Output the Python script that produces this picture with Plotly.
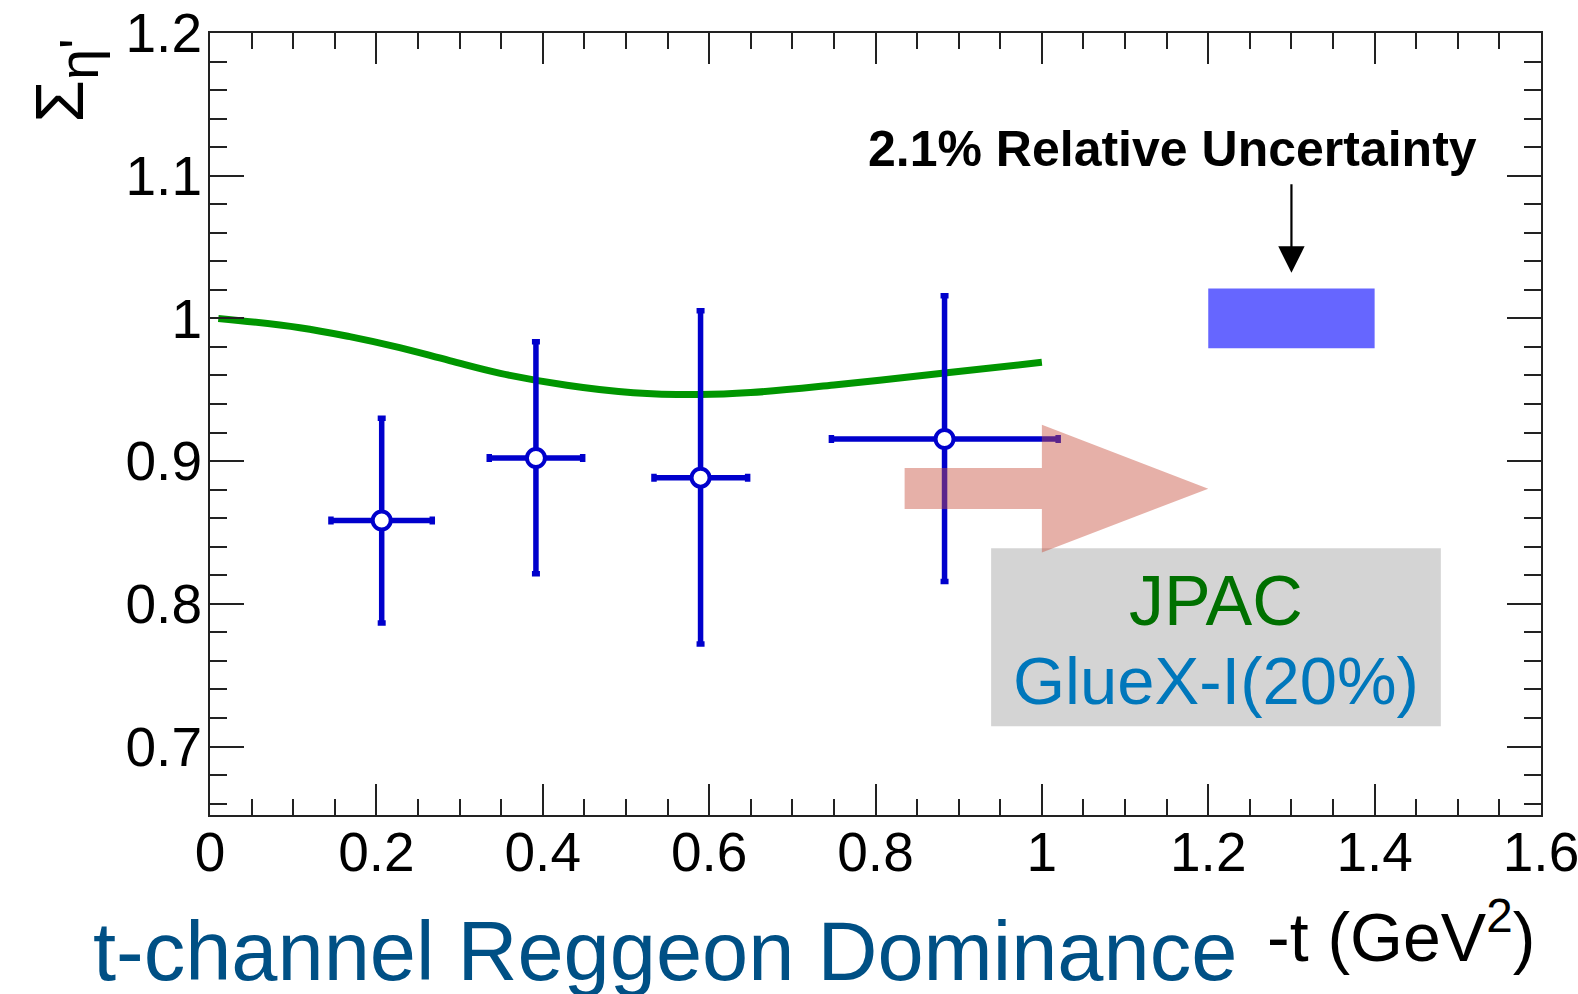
import plotly.graph_objects as go

# ---- data ----
t_pts = [0.2064, 0.3918, 0.5897, 0.8830]
sigma_pts = [0.8584, 0.9022, 0.8884, 0.9155]
t_lo = [0.1454, 0.3357, 0.5337, 0.7470]
t_hi = [0.2672, 0.4480, 0.6463, 1.0196]
sig_lo = [0.7865, 0.8210, 0.7718, 0.8157]
sig_hi = [0.9300, 0.9837, 1.0054, 1.0159]

jpac_t = [0.010, 0.108, 0.168, 0.228, 0.288, 0.349, 0.429, 0.509, 0.589, 0.650, 0.750, 0.883, 1.000]
jpac_sigma = [1.000, 0.9935, 0.9872, 0.9795, 0.9704, 0.9615, 0.9532, 0.9479, 0.9466, 0.9480, 0.9533, 0.9617, 0.9692]

unc_t = [1.2, 1.4]
unc_sigma = [0.979, 1.021]

x_ticks = [0, 0.2, 0.4, 0.6, 0.8, 1.0, 1.2, 1.4, 1.6]
x_ticktext = ["0", "0.2", "0.4", "0.6", "0.8", "1", "1.2", "1.4", "1.6"]
y_ticks = [0.7, 0.8, 0.9, 1.0, 1.1, 1.2]
y_ticktext = ["0.7", "0.8", "0.9", "1", "1.1", "1.2"]

# decorative arrow (shaft x0,x1,y0,y1 ; head base x, y0,y1 ; tip x,y)
arrow_shaft = [0.835, 1.0, 0.8664, 0.8952]
arrow_head = [1.0, 0.836, 0.9255]
arrow_tip = [1.2, 0.8807]
legend_box = [0.939, 1.4796, 0.7142, 0.839]

FONT = "Liberation Sans, Arial, Helvetica, sans-serif"
BLUE = "rgb(0,0,204)"

fig = go.Figure()

fig.add_trace(go.Scatter(
    x=jpac_t, y=jpac_sigma, mode="lines",
    line=dict(color="rgb(0,150,0)", width=7, shape="spline", smoothing=1.1),
    showlegend=False, hoverinfo="skip"))

fig.add_trace(go.Scatter(
    x=t_pts, y=sigma_pts, mode="markers",
    marker=dict(symbol="circle", size=18, color="white",
                line=dict(color=BLUE, width=4)),
    error_x=dict(type="data", symmetric=False,
                 array=[h - c for h, c in zip(t_hi, t_pts)],
                 arrayminus=[c - l for l, c in zip(t_lo, t_pts)],
                 color=BLUE, thickness=5.5, width=4),
    error_y=dict(type="data", symmetric=False,
                 array=[h - c for h, c in zip(sig_hi, sigma_pts)],
                 arrayminus=[c - l for l, c in zip(sig_lo, sigma_pts)],
                 color=BLUE, thickness=5.5, width=4),
    showlegend=False))

shapes = [
    dict(type="rect", xref="x", yref="y", x0=unc_t[0], x1=unc_t[1],
         y0=unc_sigma[0], y1=unc_sigma[1], fillcolor="#6666ff",
         line=dict(width=0), layer="above"),
    dict(type="rect", xref="x", yref="y", x0=legend_box[0], x1=legend_box[1],
         y0=legend_box[2], y1=legend_box[3], fillcolor="rgb(212,212,212)",
         line=dict(width=0), layer="above"),
]
path = (f"M {arrow_shaft[0]},{arrow_shaft[2]} L {arrow_shaft[1]},{arrow_shaft[2]} "
        f"L {arrow_head[0]},{arrow_head[1]} L {arrow_tip[0]},{arrow_tip[1]} "
        f"L {arrow_head[0]},{arrow_head[2]} L {arrow_shaft[1]},{arrow_shaft[3]} "
        f"L {arrow_shaft[0]},{arrow_shaft[3]} Z")
shapes.append(dict(type="path", xref="x", yref="y", path=path,
                   fillcolor="rgba(200,80,62,0.45)", line=dict(width=0),
                   layer="above"))

annotations = [
    dict(x=1.3, y=1.032, ax=1.3, ay=1.095, xref="x", yref="y", axref="x", ayref="y",
         text="", showarrow=True, arrowhead=2, arrowsize=2.4, arrowwidth=2.2,
         arrowcolor="black"),
    dict(x=1.157, y=1.119, xref="x", yref="y", text="<b>2.1% Relative Uncertainty</b>",
         showarrow=False, font=dict(family=FONT, size=50, color="black")),
    dict(x=1.209, y=0.802, xref="x", yref="y", text="JPAC", showarrow=False,
         font=dict(family=FONT, size=70, color="rgb(0,112,0)")),
    dict(x=1.209, y=0.746, xref="x", yref="y", text="GlueX-I(20%)", showarrow=False,
         font=dict(family=FONT, size=67, color="rgb(0,119,187)")),
    dict(x=-0.0897, y=-0.174, xref="paper", yref="paper", xanchor="left", yanchor="middle",
         text="t-channel Reggeon Dominance", showarrow=False,
         font=dict(family=FONT, size=83, color="rgb(0,80,133)")),
    dict(x=0.997, y=-0.15, xref="paper", yref="paper", xanchor="right", yanchor="middle",
         text="-t (GeV<sup>2</sup>)", showarrow=False,
         font=dict(family=FONT, size=68, color="black")),
    dict(x=-0.109, y=0.997, xref="paper", yref="paper", xanchor="center", yanchor="top",
         text="Σ<sub><span style='font-size:56px'>η'</span></sub>", textangle=-90,
         showarrow=False, font=dict(family=FONT, size=69, color="black")),
]

axis_common = dict(
    showline=True, linecolor="#222", linewidth=2, mirror="allticks",
    ticks="inside", tickcolor="#222", tickwidth=2, showgrid=False, zeroline=False,
    tickfont=dict(family=FONT, size=55, color="black"), automargin=False,
    ticklabeloverflow="allow",
)

fig.update_layout(
    width=1578, height=994,
    margin=dict(l=210, r=37, t=33, b=179, autoexpand=False),
    paper_bgcolor="white", plot_bgcolor="white",
    shapes=shapes, annotations=annotations, showlegend=False,
    xaxis=dict(range=[0, 1.6], tickvals=x_ticks, ticktext=x_ticktext, ticklen=31,
               ticklabelstandoff=-12,
               minor=dict(dtick=0.05, ticklen=16, tickwidth=2, tickcolor="#222", ticks="inside"),
               **axis_common),
    yaxis=dict(range=[0.652, 1.2], tickvals=y_ticks, ticktext=y_ticktext, ticklen=34,
               ticklabelstandoff=-5,
               minor=dict(dtick=0.02, tick0=0.7, ticklen=17, tickwidth=2, tickcolor="#222", ticks="inside"),
               **axis_common),
)

# remove the browser's default 8px body margin so the figure fills the window exactly
fig.write_html("out.html", config={"displayModeBar": False},
               post_script="document.body.style.margin='0';document.body.style.overflow='hidden';")
